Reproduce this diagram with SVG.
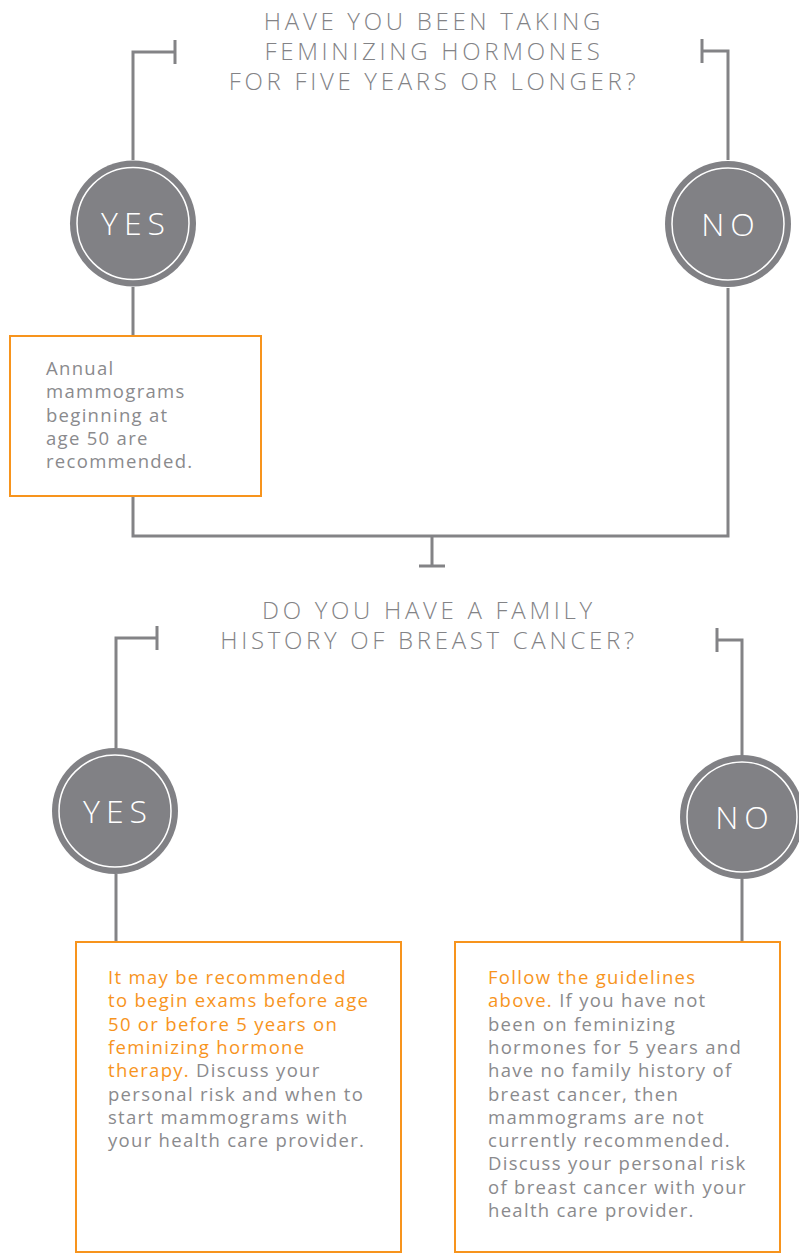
<svg xmlns="http://www.w3.org/2000/svg" width="799" height="1257" viewBox="0 0 799 1257">
<style>
.ln{fill:none;stroke:#838386;stroke-width:3}
.cir{fill:#818185}
.inner{fill:none;stroke:#fff;stroke-width:1.5}
.ct{font-family:"Open Sans","Liberation Sans",sans-serif;font-size:32px;font-weight:300;fill:#fff;text-anchor:middle;letter-spacing:6px}
.q{font-family:"Open Sans","Liberation Sans",sans-serif;font-size:24px;font-weight:300;fill:#838386;text-anchor:middle;letter-spacing:3.7px}
.box{fill:#fff;stroke:#F7941D;stroke-width:2}
.bt{font-family:"Open Sans","Liberation Sans",sans-serif;font-size:18.5px;fill:#8a8a8d;letter-spacing:1.3px}
.or{fill:#F7941D}
</style>
<g id="connectors">
<path class="ln" d="M133 160V52H175M175 40V64"/>
<path class="ln" d="M728 160V51H702M702 39V63"/>
<path class="ln" d="M133 287V336M133 496V536H728V288"/>
<path class="ln" d="M432 536V566M419 566H445"/>
<path class="ln" d="M116 748V638H157M157 626V650"/>
<path class="ln" d="M742 756V640H717M717 628V652"/>
<path class="ln" d="M116 874V942"/>
<path class="ln" d="M742 879V942"/>
</g>
<g id="q1">
<text class="q" x="434" y="30">HAVE YOU BEEN TAKING</text>
<text class="q" x="434" y="60">FEMINIZING HORMONES</text>
<text class="q" x="434" y="90">FOR FIVE YEARS OR LONGER?</text>
</g>
<g id="yes1">
<circle class="cir" cx="133" cy="223.5" r="63"/>
<circle class="inner" cx="133" cy="223.5" r="56"/>
<text class="ct" x="136" y="234.5">YES</text>
</g>
<g id="no1">
<circle class="cir" cx="728" cy="224" r="63"/>
<circle class="inner" cx="728" cy="224" r="56"/>
<text class="ct" x="731" y="235.5">NO</text>
</g>
<g id="box1">
<rect class="box" x="10" y="336" width="251" height="160"/>
<text class="bt"><tspan x="46" y="375">Annual</tspan><tspan x="46" y="398.3">mammograms</tspan><tspan x="46" y="421.6">beginning at</tspan><tspan x="46" y="444.9">age 50 are</tspan><tspan x="46" y="468.2">recommended.</tspan></text>
</g>
<g id="q2">
<text class="q" x="429" y="619">DO YOU HAVE A FAMILY</text>
<text class="q" x="429" y="649">HISTORY OF BREAST CANCER?</text>
</g>
<g id="yes2">
<circle class="cir" cx="115" cy="811" r="63"/>
<circle class="inner" cx="115" cy="811" r="56"/>
<text class="ct" x="118" y="822.5">YES</text>
</g>
<g id="no2">
<circle class="cir" cx="742" cy="817" r="62"/>
<circle class="inner" cx="742" cy="817" r="55"/>
<text class="ct" x="745" y="828.5">NO</text>
</g>
<g id="box2">
<rect class="box" x="76" y="942" width="325" height="310"/>
<text class="bt"><tspan class="or" x="108" y="984">It may be recommended</tspan><tspan class="or" x="108" y="1007.3">to begin exams before age</tspan><tspan class="or" x="108" y="1030.6">50 or before 5 years on</tspan><tspan class="or" x="108" y="1053.9">feminizing hormone</tspan><tspan x="108" y="1077.2"><tspan class="or">therapy.</tspan> Discuss your</tspan><tspan x="108" y="1100.5">personal risk and when to</tspan><tspan x="108" y="1123.8">start mammograms with</tspan><tspan x="108" y="1147.1">your health care provider.</tspan></text>
</g>
<g id="box3">
<rect class="box" x="455" y="942" width="325" height="310"/>
<text class="bt"><tspan class="or" x="488" y="984">Follow the guidelines</tspan><tspan x="488" y="1007.3"><tspan class="or">above.</tspan> If you have not</tspan><tspan x="488" y="1030.6">been on feminizing</tspan><tspan x="488" y="1053.9">hormones for 5 years and</tspan><tspan x="488" y="1077.2">have no family history of</tspan><tspan x="488" y="1100.5">breast cancer, then</tspan><tspan x="488" y="1123.8">mammograms are not</tspan><tspan x="488" y="1147.1">currently recommended.</tspan><tspan x="488" y="1170.4">Discuss your personal risk</tspan><tspan x="488" y="1193.7">of breast cancer with your</tspan><tspan x="488" y="1217">health care provider.</tspan></text>
</g>
</svg>
